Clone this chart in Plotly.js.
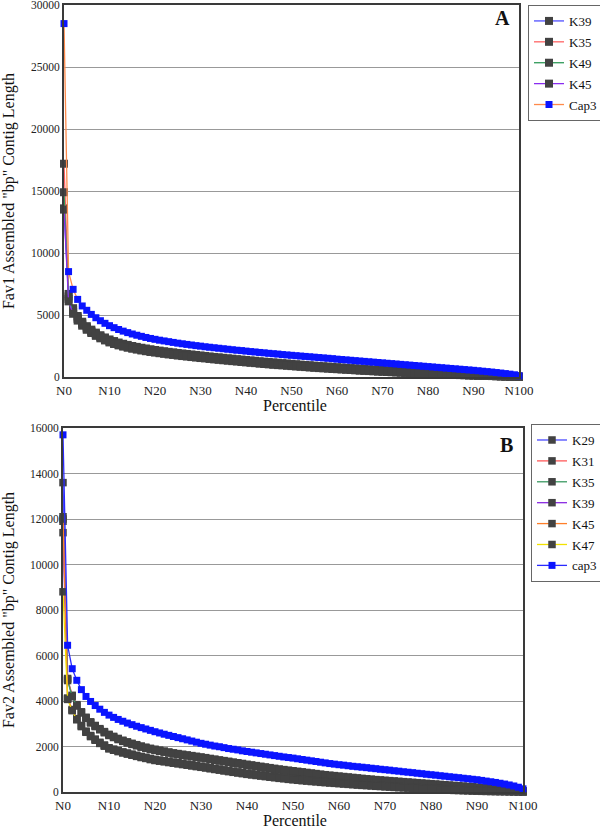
<!DOCTYPE html>
<html>
<head>
<meta charset="utf-8">
<script src="https://cdn.plot.ly/plotly-3.0.1.min.js"></script>
<style>html,body{margin:0;padding:0;background:#fff;}#chart{width:600px;height:829px;}</style>
</head>
<body>
<div id="chart"></div>
<script>
// Percentile categories N0 ... N100
const percentiles = Array.from({length: 101}, (_, i) => 'N' + i);
const xTickLabels = ['N0','N10','N20','N30','N40','N50','N60','N70','N80','N90','N100'];
const yTicksA = [0, 5000, 10000, 15000, 20000, 25000, 30000];
const yTicksB = [0, 2000, 4000, 6000, 8000, 10000, 12000, 14000, 16000];

// ---- Panel A : Fav1 ----
const seriesNamesA = ['K39', 'K35', 'K49', 'K45', 'Cap3'];
const fav1K39 = [13600, 6500, 5400, 4800, 4350, 4000, 3720, 3480, 3270, 3090, 2930,
 2800, 2680, 2580, 2490, 2410, 2340, 2270, 2210, 2150, 2090,
 2040, 1990, 1940, 1900, 1850, 1810, 1770, 1730, 1690, 1650,
 1610, 1570, 1530, 1500, 1460, 1420, 1390, 1350, 1320, 1280,
 1250, 1220, 1180, 1150, 1120, 1090, 1060, 1030, 1000, 970,
 940, 910, 880, 860, 830, 800, 780, 750, 730, 700,
 680, 650, 630, 610, 590, 560, 540, 520, 500, 480,
 460, 440, 420, 400, 385, 365, 345, 330, 310, 295,
 280, 260, 245, 230, 215, 200, 185, 170, 155, 140,
 125, 115, 100, 90, 75, 65, 50, 40, 30, 20];
const fav1K35 = [17200, 6700, 5550, 4920, 4460, 4100, 3820, 3580, 3370, 3190, 3030,
 2900, 2780, 2680, 2590, 2500, 2430, 2360, 2300, 2240, 2180,
 2130, 2080, 2030, 1990, 1940, 1900, 1860, 1820, 1780, 1740,
 1700, 1660, 1620, 1590, 1550, 1510, 1480, 1440, 1410, 1370,
 1340, 1310, 1270, 1240, 1210, 1180, 1150, 1120, 1090, 1060,
 1030, 1000, 970, 950, 920, 890, 870, 840, 820, 790,
 770, 740, 720, 700, 680, 650, 630, 610, 590, 570,
 550, 530, 510, 490, 470, 450, 430, 410, 390, 370,
 350, 330, 310, 290, 270, 250, 230, 210, 190, 170,
 150, 135, 120, 105, 90, 75, 60, 45, 35, 25];
const fav1K49 = [14900, 6300, 5250, 4680, 4250, 3910, 3640, 3400, 3200, 3020, 2860,
 2730, 2610, 2510, 2420, 2340, 2270, 2200, 2140, 2080, 2020,
 1970, 1920, 1870, 1830, 1780, 1740, 1700, 1660, 1620, 1580,
 1540, 1500, 1470, 1430, 1400, 1360, 1330, 1290, 1260, 1220,
 1190, 1160, 1120, 1090, 1060, 1030, 1000, 980, 950, 920,
 890, 860, 840, 810, 780, 760, 730, 710, 690, 660,
 640, 620, 600, 570, 550, 530, 510, 490, 470, 450,
 430, 410, 395, 375, 360, 340, 325, 305, 290, 275,
 260, 245, 230, 215, 200, 185, 170, 155, 140, 130,
 115, 105, 95, 80, 70, 60, 50, 40, 30, 15];
const fav1K45 = [13500, 6100, 5100, 4550, 4140, 3810, 3550, 3320, 3120, 2950, 2790,
 2660, 2550, 2450, 2360, 2280, 2210, 2140, 2080, 2020, 1970,
 1920, 1870, 1820, 1780, 1730, 1690, 1650, 1610, 1570, 1530,
 1500, 1460, 1420, 1390, 1350, 1320, 1280, 1250, 1210, 1180,
 1150, 1120, 1080, 1050, 1020, 990, 960, 940, 910, 880,
 850, 830, 800, 770, 750, 720, 700, 680, 650, 630,
 610, 590, 570, 540, 520, 500, 480, 460, 440, 425,
 405, 385, 370, 350, 335, 320, 300, 285, 270, 255,
 240, 225, 210, 195, 185, 170, 155, 145, 130, 120,
 105, 95, 85, 75, 65, 55, 45, 35, 25, 15];
const fav1Cap3 = [28500, 8500, 7070, 6260, 5730, 5380, 5050, 4780, 4540, 4330, 4140,
 3980, 3830, 3700, 3580, 3470, 3370, 3280, 3190, 3110, 3040,
 2970, 2910, 2850, 2790, 2730, 2680, 2630, 2580, 2530, 2490,
 2440, 2400, 2360, 2320, 2280, 2240, 2200, 2160, 2130, 2090,
 2050, 2020, 1980, 1950, 1910, 1880, 1850, 1810, 1780, 1750,
 1720, 1690, 1660, 1630, 1600, 1570, 1540, 1510, 1480, 1440,
 1410, 1380, 1350, 1320, 1290, 1260, 1230, 1200, 1170, 1140,
 1110, 1080, 1050, 1020, 990, 960, 930, 900, 870, 840,
 810, 780, 750, 720, 690, 660, 630, 600, 570, 540,
 505, 470, 435, 400, 360, 320, 275, 230, 180, 100];

// ---- Panel B : Fav2 ----
const seriesNamesB = ['K29', 'K31', 'K35', 'K39', 'K45', 'K47', 'cap3'];
const fav2K29 = [13600, 4950, 4220, 3810, 3500, 3260, 3060, 2900, 2760, 2630, 2510,
 2420, 2330, 2250, 2180, 2115, 2055, 1995, 1945, 1895, 1855,
 1815, 1775, 1735, 1695, 1665, 1635, 1605, 1575, 1545, 1515,
 1485, 1450, 1420, 1385, 1355, 1325, 1290, 1260, 1230, 1195,
 1165, 1135, 1105, 1075, 1045, 1015, 985, 960, 935, 910,
 885, 860, 835, 810, 785, 760, 735, 715, 695, 675,
 655, 635, 615, 595, 575, 555, 540, 520, 505, 490,
 475, 460, 445, 430, 415, 400, 385, 370, 355, 340,
 325, 310, 295, 280, 265, 250, 240, 225, 210, 195,
 180, 170, 155, 140, 125, 110, 95, 80, 60, 40];
const fav2K31 = [12100, 4990, 4250, 3840, 3525, 3285, 3085, 2925, 2785, 2655, 2535,
 2445, 2355, 2275, 2205, 2140, 2080, 2020, 1970, 1920, 1880,
 1840, 1800, 1760, 1720, 1690, 1660, 1630, 1600, 1570, 1540,
 1510, 1475, 1445, 1410, 1380, 1350, 1315, 1285, 1255, 1220,
 1190, 1160, 1130, 1100, 1070, 1040, 1010, 985, 960, 935,
 910, 885, 860, 835, 810, 785, 760, 740, 720, 700,
 680, 660, 640, 620, 600, 580, 565, 545, 530, 515,
 500, 485, 470, 455, 440, 425, 410, 395, 380, 365,
 350, 335, 320, 305, 290, 275, 260, 245, 230, 215,
 200, 185, 170, 155, 140, 125, 110, 90, 70, 50];
const fav2K35 = [11900, 4900, 4190, 3780, 3475, 3235, 3035, 2875, 2735, 2605, 2485,
 2395, 2305, 2225, 2155, 2090, 2030, 1970, 1920, 1870, 1830,
 1790, 1750, 1710, 1670, 1640, 1610, 1580, 1550, 1520, 1490,
 1460, 1425, 1395, 1360, 1330, 1300, 1265, 1235, 1205, 1170,
 1140, 1110, 1080, 1050, 1020, 990, 960, 935, 910, 885,
 860, 835, 810, 785, 760, 735, 710, 690, 670, 650,
 630, 610, 590, 570, 550, 530, 515, 495, 480, 465,
 450, 435, 420, 405, 390, 375, 360, 345, 330, 315,
 300, 285, 270, 255, 240, 225, 215, 200, 190, 175,
 160, 150, 135, 125, 110, 95, 80, 65, 50, 30];
const fav2K39 = [11400, 4100, 3600, 3200, 2900, 2650, 2460, 2300, 2160, 2040, 1920,
 1860, 1800, 1740, 1690, 1640, 1590, 1540, 1500, 1450, 1410,
 1380, 1350, 1320, 1290, 1260, 1230, 1200, 1170, 1140, 1110,
 1080, 1045, 1015, 985, 950, 920, 890, 860, 830, 800,
 775, 750, 725, 700, 675, 650, 625, 605, 580, 560,
 540, 520, 505, 485, 470, 450, 435, 420, 405, 390,
 375, 360, 345, 330, 315, 305, 290, 275, 265, 250,
 240, 225, 215, 205, 195, 180, 170, 160, 150, 140,
 130, 120, 115, 105, 95, 90, 80, 75, 65, 60,
 55, 50, 45, 40, 35, 30, 25, 20, 15, 10];
const fav2K45 = [12000, 4130, 3625, 3225, 2925, 2675, 2485, 2325, 2185, 2065, 1945,
 1885, 1825, 1765, 1715, 1665, 1615, 1565, 1525, 1475, 1435,
 1405, 1375, 1345, 1315, 1285, 1255, 1225, 1195, 1165, 1135,
 1105, 1070, 1040, 1010, 975, 945, 915, 885, 855, 825,
 800, 775, 750, 725, 700, 675, 650, 630, 605, 585,
 565, 545, 530, 510, 495, 475, 460, 445, 430, 415,
 400, 385, 370, 355, 340, 330, 315, 300, 290, 275,
 265, 250, 240, 230, 220, 205, 195, 185, 175, 165,
 155, 145, 135, 125, 115, 105, 95, 90, 80, 70,
 65, 60, 55, 45, 40, 35, 30, 25, 20, 10];
const fav2K47 = [8800, 4070, 3575, 3175, 2875, 2625, 2435, 2275, 2135, 2015, 1895,
 1835, 1775, 1715, 1665, 1615, 1565, 1515, 1475, 1425, 1385,
 1355, 1325, 1295, 1265, 1235, 1205, 1175, 1145, 1115, 1085,
 1055, 1020, 990, 960, 925, 895, 865, 835, 805, 775,
 750, 725, 700, 675, 650, 625, 600, 580, 555, 535,
 515, 495, 480, 460, 445, 425, 410, 395, 380, 365,
 350, 335, 320, 305, 290, 280, 265, 250, 240, 225,
 215, 200, 190, 180, 170, 155, 145, 135, 125, 115,
 105, 95, 90, 80, 70, 65, 55, 50, 40, 35,
 30, 25, 20, 15, 10, 10, 5, 5, 0, 0];
const fav2Cap3 = [15700, 6450, 5420, 4910, 4500, 4200, 3980, 3800, 3640, 3500, 3380,
 3280, 3190, 3110, 3030, 2960, 2890, 2830, 2770, 2710, 2650,
 2595, 2540, 2490, 2440, 2390, 2340, 2290, 2240, 2190, 2140,
 2100, 2060, 2020, 1990, 1950, 1910, 1880, 1850, 1810, 1780,
 1750, 1720, 1690, 1660, 1630, 1600, 1570, 1540, 1515, 1490,
 1460, 1430, 1400, 1370, 1340, 1310, 1280, 1250, 1225, 1200,
 1180, 1155, 1130, 1110, 1090, 1070, 1045, 1025, 1000, 980,
 960, 935, 915, 890, 870, 850, 825, 805, 780, 760,
 740, 715, 695, 670, 650, 630, 605, 585, 560, 540,
 510, 480, 450, 420, 385, 350, 310, 265, 210, 140];

const lineColorsA = ['#5050ff', '#ff6464', '#2f9a58', '#8a2cf0', '#ff8a4a'];
const markerColorsA = ['#424242', '#424242', '#424242', '#424242', '#0a14ff'];
const valuesA = [fav1K39, fav1K35, fav1K49, fav1K45, fav1Cap3];

const lineColorsB = ['#4a4aff', '#ff5a5a', '#3a9a62', '#8a2be2', '#ff7f2a', '#f2e200', '#2a2aff'];
const markerColorsB = ['#424242', '#424242', '#424242', '#424242', '#424242', '#424242', '#0a14ff'];
const valuesB = [fav2K29, fav2K31, fav2K35, fav2K39, fav2K45, fav2K47, fav2Cap3];

const serif = '"Liberation Serif", "Times New Roman", serif';
const traces = [];
seriesNamesA.forEach((name, i) => {
  const isCap = i === seriesNamesA.length - 1;
  traces.push({
    type: 'scatter', mode: 'lines+markers', name: name,
    x: percentiles, y: valuesA[i], xaxis: 'x', yaxis: 'y',
    legend: 'legend', legendgroup: 'a' + i, cliponaxis: false,
    line: {color: lineColorsA[i], width: 1.3},
    marker: {symbol: 'square', size: isCap ? 7 : 8, color: markerColorsA[i]}
  });
});
seriesNamesB.forEach((name, i) => {
  const isCap = i === seriesNamesB.length - 1;
  traces.push({
    type: 'scatter', mode: 'lines+markers', name: name,
    x: percentiles, y: valuesB[i], xaxis: 'x2', yaxis: 'y2',
    legend: 'legend2', legendgroup: 'b' + i, cliponaxis: false,
    line: {color: lineColorsB[i], width: 1.3},
    marker: {symbol: 'square', size: isCap ? 7 : 7.5, color: markerColorsB[i]}
  });
});

const axisCommonX = {
  type: 'category', range: [0, 100], tickmode: 'array', tickvals: xTickLabels, ticktext: xTickLabels,
  showgrid: false, zeroline: false, showline: true, linecolor: '#3a3a3a', linewidth: 2, mirror: true,
  ticks: '', ticklabeloverflow: 'allow', tickfont: {family: serif, size: 13, color: '#222'}
};
const axisCommonY = {
  showgrid: true, gridcolor: '#999999', gridwidth: 1, zeroline: false,
  showline: true, linecolor: '#3a3a3a', linewidth: 2, mirror: true, ticks: '',
  ticklabeloverflow: 'allow', tickfont: {family: serif, size: 11.5, color: '#222'}
};

const titleFont = {family: serif, size: 16, color: '#111'};
const layout = {
  width: 600, height: 829,
  margin: {l: 63, r: 77, t: 5, b: 37},
  paper_bgcolor: '#fff', plot_bgcolor: '#fff',
  font: {family: serif, color: '#111'},
  xaxis: Object.assign({}, axisCommonX, {domain: [0.0022, 0.9913], anchor: 'y'}),
  yaxis: Object.assign({}, axisCommonY, {domain: [0.5273, 1], anchor: 'x', range: [0, 30000],
    tickvals: yTicksA, ticktext: yTicksA.map(String), tickmode: 'array',
    title: {text: 'Fav1 Assembled "bp" Contig Length', font: titleFont, standoff: 14}}),
  xaxis2: Object.assign({}, axisCommonX, {domain: [0, 1], anchor: 'y2'}),
  yaxis2: Object.assign({}, axisCommonY, {domain: [0, 0.4625], anchor: 'x2', range: [0, 16000],
    tickvals: yTicksB, ticktext: yTicksB.map(String), tickmode: 'array',
    title: {text: 'Fav2 Assembled "bp" Contig Length', font: titleFont, standoff: 14}}),
  legend: {xref: 'container', yref: 'container', x: 0.88, y: 0.994, xanchor: 'left', yanchor: 'top',
    bgcolor: '#fff', bordercolor: '#666', borderwidth: 1, tracegroupgap: 1,
    font: {family: serif, size: 13, color: '#111'}},
  legend2: {xref: 'container', yref: 'container', x: 0.885, y: 0.4885, xanchor: 'left', yanchor: 'top',
    bgcolor: '#fff', bordercolor: '#666', borderwidth: 1, tracegroupgap: 1,
    font: {family: serif, size: 13, color: '#111'}},
  annotations: [
    {text: '<b>A</b>', xref: 'paper', yref: 'paper', x: 0.9565, y: 0.9835, xanchor: 'center', yanchor: 'middle',
     showarrow: false, font: {family: serif, size: 20, color: '#111'}},
    {text: '<b>B</b>', xref: 'paper', yref: 'paper', x: 0.9652, y: 0.4409, xanchor: 'center', yanchor: 'middle',
     showarrow: false, font: {family: serif, size: 20, color: '#111'}},
    {text: 'Percentile', xref: 'paper', yref: 'paper', x: 0.5043, y: 0.4905, xanchor: 'center', yanchor: 'middle',
     showarrow: false, font: titleFont},
    {text: 'Percentile', xref: 'paper', yref: 'paper', x: 0.5043, y: -0.0368, xanchor: 'center', yanchor: 'middle',
     showarrow: false, font: titleFont}
  ],
  showlegend: true
};

Plotly.newPlot('chart', traces, layout, {displayModeBar: false, staticPlot: true});
</script>
</body>
</html>
